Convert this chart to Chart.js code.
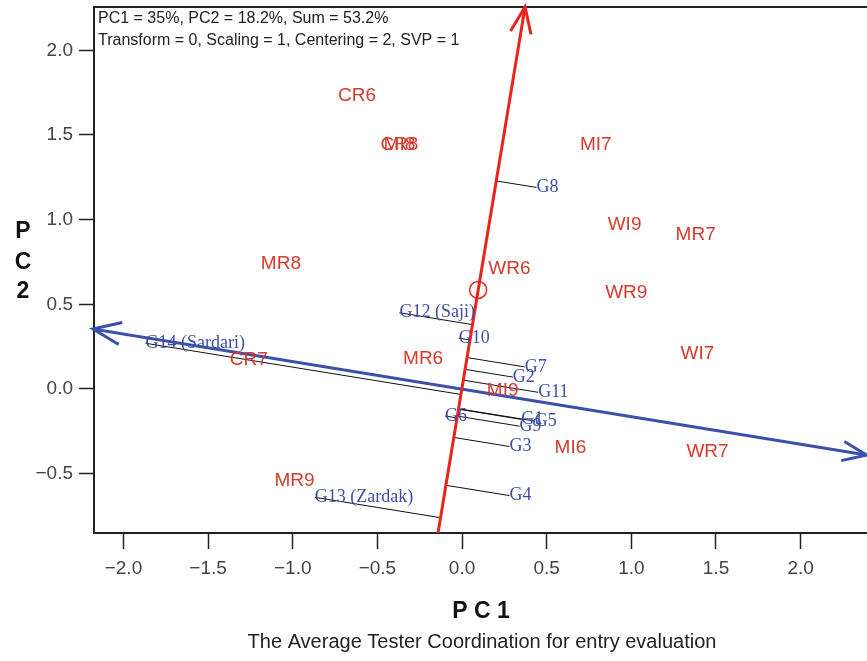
<!DOCTYPE html>
<html lang="en">
<head>
    <meta charset="UTF-8">
    <title>Average Tester Coordination</title>
    <script src="https://cdn.jsdelivr.net/npm/chart.js@4.4.1/dist/chart.umd.min.js"></script>
    <style>
        html, body { margin: 0; padding: 0; background: #fff; }
        #wrap { width: 867px; height: 661px; }
    </style>
</head>
<body>
    <div id="wrap"><canvas id="myChart" width="867" height="661"></canvas></div>
    <script>
        // environments (red labels)
        const envNames = ['CR6', 'CR8', 'MI8', 'MI7', 'WI9', 'MR7', 'MR8', 'WR6', 'WR9', 'WI7', 'MR6', 'CR7', 'MI9', 'MI6', 'WR7', 'MR9'];
        const envPC1 = [-0.62, -0.37, -0.37, 0.79, 0.96, 1.38, -1.07, 0.28, 0.97, 1.39, -0.23, -1.26, 0.24, 0.64, 1.45, -0.99];
        const envPC2 = [1.73, 1.44, 1.44, 1.44, 0.97, 0.91, 0.74, 0.71, 0.57, 0.21, 0.18, 0.17, -0.01, -0.35, -0.37, -0.54];

        // genotypes (blue labels)
        const genNames = ['G1', 'G2', 'G3', 'G4', 'G5', 'G6', 'G7', 'G8', 'G9', 'G10', 'G11', 'G12 (Saji)', 'G13 (Zardak)', 'G14 (Sardari)'];
        const genPC1 = [0.35, 0.30, 0.28, 0.28, 0.43, -0.10, 0.37, 0.44, 0.34, -0.02, 0.45, -0.37, -0.87, -1.87];
        const genPC2 = [-0.18, 0.07, -0.34, -0.63, -0.19, -0.16, 0.13, 1.19, -0.22, 0.30, -0.02, 0.45, -0.64, 0.27];

        // average environment and the two ATC axes
        const avgEnv = [0.095, 0.585];
        const redAxisX = [-0.142, 0.372];
        const redAxisY = [-0.851, 2.256];
        const blueAxisX = [-2.18, 2.39];
        const blueAxisY = [0.354, -0.39];

        const xTicks = [-2.0, -1.5, -1.0, -0.5, 0.0, 0.5, 1.0, 1.5, 2.0];
        const yTicks = [-0.5, 0.0, 0.5, 1.0, 1.5, 2.0];

        const RED = '#e8241d';
        const BLUE = '#3a50ad';
        const ENV_COLOR = '#d63a2c';
        const GEN_COLOR = '#3d4ea6';

        function fmt(v) {
            var s = Math.abs(v).toFixed(1);
            return v < 0 ? '\u2212' + s : s;
        }

        // foot of the perpendicular from a genotype onto the average-environment axis
        function project(x, y) {
            var len = Math.hypot(avgEnv[0], avgEnv[1]);
            var ux = avgEnv[0] / len, uy = avgEnv[1] / len;
            var d = x * ux + y * uy;
            return { x: d * ux, y: d * uy };
        }

        var datasets = [];
        genNames.forEach(function (name, i) {
            var foot = project(genPC1[i], genPC2[i]);
            datasets.push({
                data: [{ x: genPC1[i], y: genPC2[i] }, foot],
                showLine: true,
                borderColor: '#111',
                borderWidth: 1,
                pointRadius: 0,
                order: 5
            });
        });
        datasets.push({
            data: [{ x: blueAxisX[0], y: blueAxisY[0] }, { x: blueAxisX[1], y: blueAxisY[1] }],
            showLine: true, borderColor: BLUE, borderWidth: 3, pointRadius: 0, order: 3
        });
        datasets.push({
            data: [{ x: redAxisX[0], y: redAxisY[0] }, { x: redAxisX[1], y: redAxisY[1] }],
            showLine: true, borderColor: RED, borderWidth: 3, pointRadius: 0, order: 2
        });
        datasets.push({
            data: [{ x: avgEnv[0], y: avgEnv[1] }],
            pointStyle: 'circle', pointRadius: 8.5, borderColor: RED, borderWidth: 1.5,
            backgroundColor: 'rgba(0,0,0,0)', order: 1
        });

        function arrowHead(ctx, x0, y0, x1, y1, len, color) {
            var a = Math.atan2(y1 - y0, x1 - x0);
            var spread = 0.38;
            ctx.save();
            ctx.strokeStyle = color;
            ctx.lineWidth = 3;
            ctx.beginPath();
            ctx.moveTo(x1 - len * Math.cos(a - spread), y1 - len * Math.sin(a - spread));
            ctx.lineTo(x1, y1);
            ctx.lineTo(x1 - len * Math.cos(a + spread), y1 - len * Math.sin(a + spread));
            ctx.stroke();
            ctx.restore();
        }

        const biplotText = {
            id: 'biplotText',
            afterDatasetsDraw: function (chart) {
                var ctx = chart.ctx;
                var xs = chart.scales.x, ys = chart.scales.y;
                var area = chart.chartArea;

                // top frame line
                ctx.save();
                ctx.strokeStyle = '#222';
                ctx.lineWidth = 2;
                ctx.beginPath();
                ctx.moveTo(area.left, area.top);
                ctx.lineTo(area.right, area.top);
                ctx.stroke();
                ctx.restore();

                // arrow heads
                var rx0 = xs.getPixelForValue(redAxisX[0]), ry0 = ys.getPixelForValue(redAxisY[0]);
                var rx1 = xs.getPixelForValue(redAxisX[1]), ry1 = ys.getPixelForValue(redAxisY[1]);
                arrowHead(ctx, rx0, ry0, rx1, ry1, 28, RED);
                var bx0 = xs.getPixelForValue(blueAxisX[0]), by0 = ys.getPixelForValue(blueAxisY[0]);
                var bx1 = xs.getPixelForValue(blueAxisX[1]), by1 = ys.getPixelForValue(blueAxisY[1]);
                arrowHead(ctx, bx0, by0, bx1, by1, 26, BLUE);
                arrowHead(ctx, bx1, by1, bx0, by0, 30, BLUE);

                ctx.save();
                ctx.textBaseline = 'middle';

                // genotype labels
                ctx.font = '18px "Liberation Serif"';
                ctx.fillStyle = GEN_COLOR;
                ctx.textAlign = 'left';
                genNames.forEach(function (name, i) {
                    ctx.fillText(name, xs.getPixelForValue(genPC1[i]), ys.getPixelForValue(genPC2[i]));
                });

                // environment labels
                ctx.font = '19px "Liberation Sans"';
                ctx.fillStyle = ENV_COLOR;
                ctx.textAlign = 'center';
                envNames.forEach(function (name, i) {
                    ctx.fillText(name, xs.getPixelForValue(envPC1[i]), ys.getPixelForValue(envPC2[i]));
                });

                // info text
                ctx.font = '16px "Liberation Sans"';
                ctx.fillStyle = '#222';
                ctx.textAlign = 'left';
                ctx.fillText('PC1 = 35%, PC2 = 18.2%, Sum = 53.2%', area.left + 4, area.top + 12);
                ctx.fillText('Transform = 0, Scaling = 1, Centering = 2, SVP = 1', area.left + 4, area.top + 34);

                // axis titles
                ctx.fillStyle = '#111';
                ctx.textAlign = 'center';
                ctx.font = 'bold 23px "Liberation Sans"';
                ctx.fillText('P C 1', 481, 612);
                ctx.fillText('P', 23, 232);
                ctx.fillText('C', 23, 263);
                ctx.fillText('2', 23, 292);

                ctx.font = '20px "Liberation Sans"';
                ctx.fillStyle = '#222';
                ctx.fillText('The Average Tester Coordination for entry evaluation', 482, 642);
                ctx.restore();
            }
        };

        function createChart() {
            var ctx = document.getElementById('myChart').getContext('2d');
            new Chart(ctx, {
                type: 'scatter',
                data: { datasets: datasets },
                options: {
                    responsive: false,
                    animation: false,
                    layout: { autoPadding: false, padding: { top: 7, right: 0, left: 0, bottom: 0 } },
                    plugins: { legend: { display: false }, tooltip: { enabled: false } },
                    scales: {
                        x: {
                            type: 'linear',
                            min: -2.174,
                            max: 2.392,
                            afterBuildTicks: function (scale) {
                                scale.ticks = xTicks.map(function (v) { return { value: v }; });
                            },
                            afterFit: function (scale) {
                                scale.height = 128;
                                scale.paddingLeft = 0;
                                scale.paddingRight = 0;
                            },
                            grid: { drawOnChartArea: false, tickLength: 16, tickColor: '#222', tickWidth: 1.5 },
                            border: { color: '#222', width: 2 },
                            ticks: {
                                padding: 8,
                                color: '#444',
                                font: { family: 'Liberation Sans', size: 19 },
                                callback: function (v) { return fmt(v); }
                            }
                        },
                        y: {
                            type: 'linear',
                            min: -0.851,
                            max: 2.256,
                            afterBuildTicks: function (scale) {
                                scale.ticks = yTicks.map(function (v) { return { value: v }; });
                            },
                            afterFit: function (scale) {
                                scale.width = 94;
                                scale.paddingTop = 0;
                                scale.paddingBottom = 0;
                            },
                            grid: { drawOnChartArea: false, tickLength: 15, tickColor: '#222', tickWidth: 1.5 },
                            border: { color: '#222', width: 2 },
                            ticks: {
                                padding: 6,
                                color: '#444',
                                font: { family: 'Liberation Sans', size: 19 },
                                callback: function (v) { return fmt(v); }
                            }
                        }
                    }
                },
                plugins: [biplotText]
            });
        }
        createChart();
    </script>
</body>
</html>
